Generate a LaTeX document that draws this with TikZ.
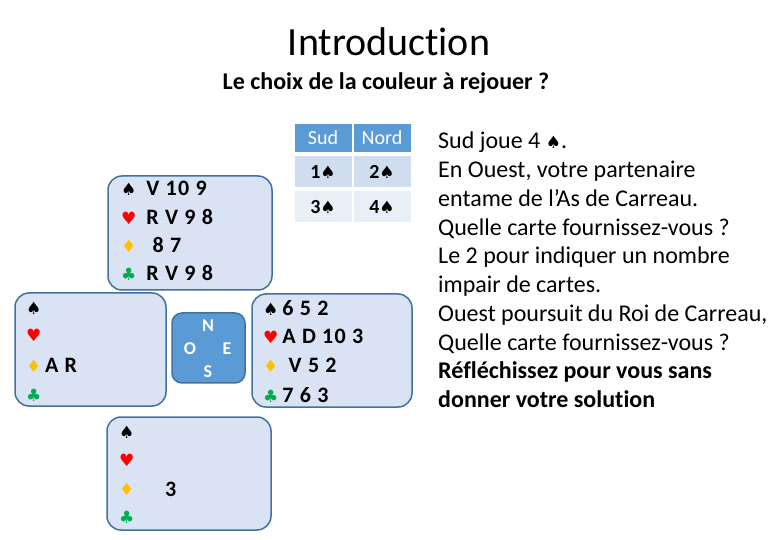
\documentclass[tikz,border=0pt]{standalone}
\usepackage{fontspec}
\setmainfont{Carlito}[Ligatures=NoCommon]
\newfontfamily\suitfont{DejaVu Sans}
\usepackage{xcolor}
\usetikzlibrary{positioning}
\definecolor{handbg}{HTML}{DAE3F3}
\definecolor{handline}{HTML}{41719C}
\definecolor{tablehead}{HTML}{5B9BD5}
\definecolor{rowone}{HTML}{CFDDEE}
\definecolor{rowtwo}{HTML}{E9EFF7}
\definecolor{heartred}{HTML}{FF0000}
\definecolor{diamondgold}{HTML}{FFC000}
\definecolor{clubgreen}{HTML}{00B050}
\newcommand{\pique}{{\suitfont\fontsize{17}{17}\selectfont\char"2660}}
\newcommand{\coeur}{{\suitfont\fontsize{17}{17}\selectfont\textcolor{heartred}{\char"2665}}}
\newcommand{\carreau}{{\suitfont\fontsize{17}{17}\selectfont\textcolor{diamondgold}{\char"2666}}}
\newcommand{\trefle}{{\suitfont\fontsize{17}{17}\selectfont\textcolor{clubgreen}{\char"2663}}}

\begin{document}
\begin{tikzpicture}[x=1pt, y=-1pt,
  hand/.style={draw=handline, fill=handbg, line width=1.5pt, rounded corners=14pt, inner sep=0pt},
  cardrow/.style={anchor=west, inner sep=0pt, font=\fontsize{22}{22}\selectfont\bfseries\addfontfeature{LetterSpace=6}},
  cell/.style={minimum width=57pt, minimum height=31pt, inner sep=0pt, font=\fontsize{20}{20}\selectfont},
  compass/.style={text=white, inner sep=0pt, font=\fontsize{18}{18}\selectfont\bfseries}]
  \useasboundingbox (0,0) rectangle (780,540);

  % titles
  \node[font=\fontsize{40}{40}\selectfont] (titre) at (389,42) {Introduction};
  \node[font=\fontsize{24}{24}\selectfont\bfseries] (question) at (386,83) {Le choix de la couleur à rejouer ?};

  % bidding table
  \node[cell, fill=tablehead, text=white, minimum height=28pt] (hsud) at (323,138) {Sud};
  \node[cell, fill=tablehead, text=white, minimum height=28pt] (hnord) at (382,138) {Nord};
  \node[cell, fill=rowone] (s1) at (323,172) {\bfseries 1\pique};
  \node[cell, fill=rowone] (n1) at (382,172) {\bfseries 2\pique};
  \node[cell, fill=rowtwo] (s2) at (323,207) {\bfseries 3\pique};
  \node[cell, fill=rowtwo] (n2) at (382,207) {\bfseries 4\pique};

  % hands
  \node[hand, minimum width=164pt, minimum height=114pt] (nord) at (190,233) {};
  \node[hand, minimum width=151pt, minimum height=113pt] (ouest) at (90.5,349.5) {};
  \node[hand, minimum width=160pt, minimum height=113pt] (est) at (332,350.5) {};
  \node[hand, minimum width=164pt, minimum height=113pt] (sud) at (189,473.5) {};
  \node[draw=handline, fill=tablehead, line width=1.5pt, rounded corners=10pt,
        minimum width=73pt, minimum height=70pt] (rose) at (208.5,348) {};
  \node[compass] (rN) at (208,326) {N};
  \node[compass] (rO) at (190,349) {O};
  \node[compass] (rE) at (227,349) {E};
  \node[compass] (rS) at (208,372) {S};

  % nord
  \foreach \y/\suit/\cards [count=\i] in {188/\pique/{V 10 9}, 217/\coeur/{R V 9 8}, 245/\carreau/{\ 8 7}, 273/\trefle/{R V 9 8}}
    \node[cardrow] (nord\i) at (121,\y) {\suit\hspace{10pt}\cards};
  % ouest
  \foreach \y/\suit/\cards [count=\i] in {308/\pique/{}, 335/\coeur/{}, 365/\carreau/{A R}, 395/\trefle/{}}
    \node[cardrow] (ouest\i) at (26,\y) {\suit\,\cards};
  % est
  \foreach \y/\suit/\cards [count=\i] in {308/\pique/{6 5 2}, 336/\coeur/{A D 10 3}, 365/\carreau/{\ V 5 2}, 395/\trefle/{7 6 3}}
    \node[cardrow] (est\i) at (263,\y) {\suit\hspace{4pt}\cards};
  % sud
  \foreach \y/\suit [count=\i] in {432/\pique, 460/\coeur, 489/\carreau, 517/\trefle}
    \node[cardrow] (sud\i) at (119,\y) {\suit};
  \node[cardrow] (carte) at (165,489) {3};

  % comment
  \node[anchor=north west, inner sep=0pt, align=left,
        font=\fontsize{24}{28.75}\selectfont] (texte) at (438,132) {%
    Sud joue 4 \pique.\\
    En Ouest, votre partenaire\\
    entame de l’As de Carreau.\\
    Quelle carte fournissez-vous ?\\
    Le 2 pour indiquer un nombre\\
    impair de cartes.\\
    Ouest poursuit du Roi de Carreau,\\
    Quelle carte fournissez-vous ?\\
    \textbf{Réfléchissez pour vous sans}\\
    \textbf{donner votre solution}};
\end{tikzpicture}
\end{document}
